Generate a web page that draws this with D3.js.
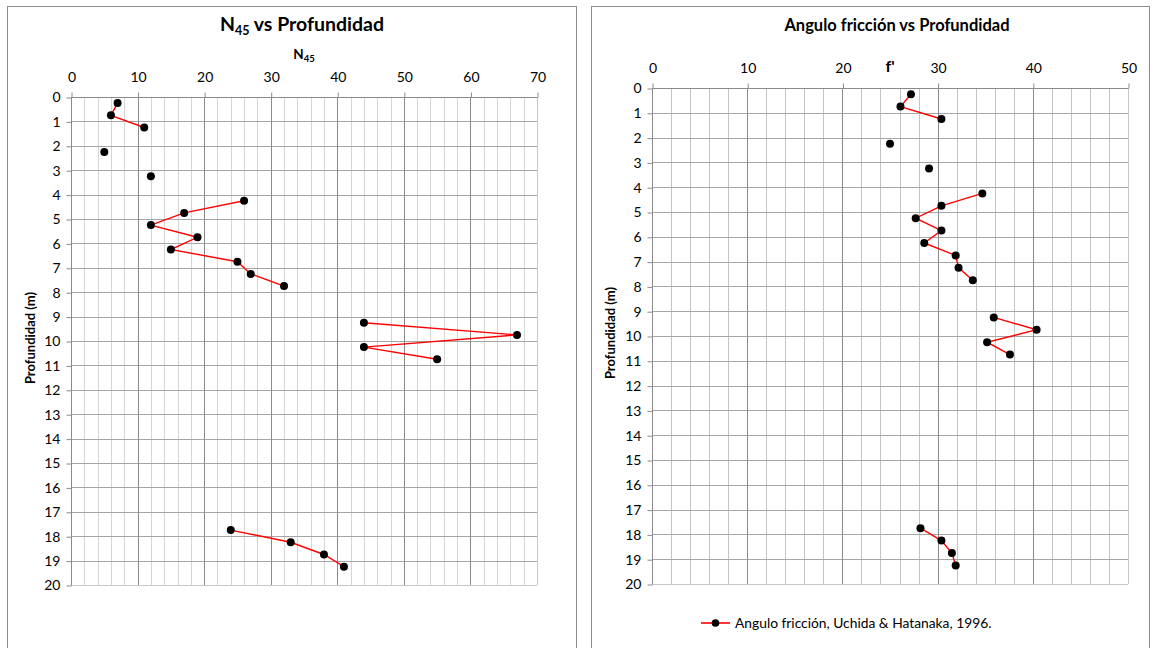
<!DOCTYPE html>
<html>
<head>
<meta charset="utf-8">
<script src="https://cdn.jsdelivr.net/npm/d3@7"></script>
<style>
  body { margin: 0; background: #fff; }
  svg text { font-family: Lato, "Open Sans", sans-serif; fill: #000; }
</style>
</head>
<body>
<svg id="chart" width="1155" height="648"></svg>
<script>
// Depth of each test (m); null values leave gaps in the profile line
const depths = [0.25, 0.75, 1.25, 1.75, 2.25, 2.75, 3.25, 3.75, 4.25, 4.75, 5.25, 5.75, 6.25, 6.75, 7.25, 7.75,
                8.25, 8.75, 9.25, 9.75, 10.25, 10.75, 11.25, 17.25, 17.75, 18.25, 18.75, 19.25];
// Corrected blow count N45
const n45 = [7, 6, 11, null, 5, null, 12, null, 26, 17, 12, 19, 15, 25, 27, 32,
             null, null, 44, 67, 44, 55, null, null, 24, 33, 38, 41];
// Friction angle (degrees), Uchida & Hatanaka 1996
const friction = [27.2, 26.1, 30.4, null, 25.0, null, 29.1, null, 34.7, 30.4, 27.7, 30.4, 28.6, 31.9, 32.2, 33.7,
                  null, null, 35.9, 40.4, 35.2, 37.6, null, null, 28.2, 30.4, 31.5, 31.9];

const depthTicks = d3.range(0, 21, 1);
const n45Ticks = d3.range(0, 71, 10);
const frictionTicks = d3.range(0, 51, 10);

const svg = d3.select("#chart");
const FONT = "Lato, 'Open Sans', sans-serif";

function panel(cfg) {
  const g = svg.append("g");
  // panel frame
  g.append("rect").attr("x", cfg.frame[0]).attr("y", cfg.frame[1])
    .attr("width", cfg.frame[2]).attr("height", cfg.frame[3])
    .attr("fill", "#fff").attr("stroke", "#8c8c8c").attr("stroke-width", 1);

  const x = d3.scaleLinear().domain(cfg.xDomain).range([cfg.left, cfg.right]);
  const y = d3.scaleLinear().domain([0, 20]).range([cfg.top, cfg.bottom]);

  // minor vertical grid every 2 units
  const minor = d3.range(cfg.xDomain[0], cfg.xDomain[1] + 0.001, 2).filter(v => v % 10 !== 0);
  g.append("g").selectAll("line").data(minor).join("line")
    .attr("x1", d => Math.round(x(d)) + 0.5).attr("x2", d => Math.round(x(d)) + 0.5)
    .attr("y1", cfg.top).attr("y2", cfg.bottom)
    .attr("stroke", cfg.minorColor).attr("stroke-width", 1);

  // horizontal grid every metre
  g.append("g").selectAll("line").data(depthTicks).join("line")
    .attr("x1", cfg.left).attr("x2", cfg.right)
    .attr("y1", d => Math.round(y(d)) + 0.5).attr("y2", d => Math.round(y(d)) + 0.5)
    .attr("stroke", d => d === 20 ? "#c8c8c8" : "#a6a6a6").attr("stroke-width", 1);

  // major vertical grid
  g.append("g").selectAll("line").data(cfg.xTicks.filter(d => d !== 0)).join("line")
    .attr("x1", d => Math.round(x(d)) + 0.5).attr("x2", d => Math.round(x(d)) + 0.5)
    .attr("y1", cfg.top).attr("y2", cfg.bottom)
    .attr("stroke", d => d === cfg.xDomain[1] ? "#c8c8c8" : "#8a8a8a").attr("stroke-width", 1);

  // top axis
  const xAxis = d3.axisTop(x).tickValues(cfg.xTicks).tickSize(5).tickPadding(11);
  const xa = g.append("g").attr("transform", `translate(0.5,${Math.round(cfg.top) + 0.5})`).call(xAxis);
  xa.select(".domain").attr("stroke", "#8a8a8a").attr("d", `M${cfg.left},0H${cfg.right}`);
  xa.selectAll(".tick line").attr("stroke", "#8a8a8a");
  xa.selectAll(".tick text").attr("font-size", 14).attr("font-family", FONT);

  // left axis
  const yAxis = d3.axisLeft(y).tickValues(depthTicks).tickSize(5).tickPadding(6);
  const ya = g.append("g").attr("transform", `translate(${Math.round(cfg.left) + 0.5},0.5)`).call(yAxis);
  ya.select(".domain").attr("stroke", "#8a8a8a").attr("d", `M0,${cfg.top}V${cfg.bottom}`);
  ya.selectAll(".tick line").attr("stroke", "#8a8a8a");
  ya.selectAll(".tick text").attr("font-size", 14).attr("font-family", FONT);

  // profile line with gaps
  const pts = depths.map((d, i) => ({ d, v: cfg.values[i] }));
  const line = d3.line().defined(p => p.v !== null).x(p => x(p.v)).y(p => y(p.d));
  g.append("path").datum(pts).attr("d", line)
    .attr("fill", "none").attr("stroke", "#ff0000").attr("stroke-width", 1.4);

  g.append("g").selectAll("circle").data(pts.filter(p => p.v !== null)).join("circle")
    .attr("cx", p => x(p.v)).attr("cy", p => y(p.d)).attr("r", 4).attr("fill", "#000");

  // titles
  const title = g.append("text").attr("x", cfg.titleX).attr("y", 31)
    .attr("text-anchor", "middle").attr("font-weight", "bold").attr("font-size", cfg.titleSize);
  cfg.title(title);

  const xt = g.append("text").attr("x", (cfg.left + cfg.right) / 2).attr("y", cfg.xTitleY)
    .attr("text-anchor", "middle").attr("font-weight", "bold").attr("font-size", cfg.xTitleSize);
  cfg.xTitle(xt);

  g.append("text")
    .attr("transform", `translate(${cfg.yTitleX},${(cfg.top + cfg.bottom) / 2 - 3}) rotate(-90)`)
    .attr("text-anchor", "middle").attr("font-weight", "bold").attr("font-size", 13)
    .text("Profundidad (m)");

  return { g, x, y };
}

panel({
  frame: [7.5, 6.5, 569, 660],
  xDomain: [0, 70], xTicks: n45Ticks, values: n45,
  left: 71, right: 537, top: 97, bottom: 585,
  minorColor: "#d4d4d4",
  titleX: 302, titleSize: 19.5,
  title: t => {
    t.append("tspan").text("N");
    t.append("tspan").attr("font-size", 12.5).attr("dy", 4).text("45");
    t.append("tspan").attr("dy", -4).text(" vs Profundidad");
  },
  xTitleY: 59, xTitleSize: 13.5,
  xTitle: t => {
    t.append("tspan").text("N");
    t.append("tspan").attr("font-size", 9.5).attr("dy", 3).text("45");
  },
  yTitleX: 35
});

panel({
  frame: [591.5, 6.5, 558, 660],
  xDomain: [0, 50], xTicks: frictionTicks, values: friction,
  left: 652, right: 1128, top: 88, bottom: 584,
  minorColor: "#c4c4c4",
  titleX: 897, titleSize: 16.5,
  title: t => t.text("Angulo fricción vs Profundidad"),
  xTitleY: 72, xTitleSize: 16,
  xTitle: t => t.text("f'"),
  yTitleX: 615
});

// legend
const lg = svg.append("g").attr("transform", "translate(701,623)");
lg.append("line").attr("x1", 0).attr("x2", 29).attr("y1", 0).attr("y2", 0)
  .attr("stroke", "#ff0000").attr("stroke-width", 1.6);
lg.append("circle").attr("cx", 14.5).attr("cy", 0).attr("r", 3.8).attr("fill", "#000");
lg.append("text").attr("x", 34).attr("y", 5).attr("font-size", 13.8)
  .text("Angulo fricción, Uchida & Hatanaka, 1996.");
</script>
</body>
</html>
